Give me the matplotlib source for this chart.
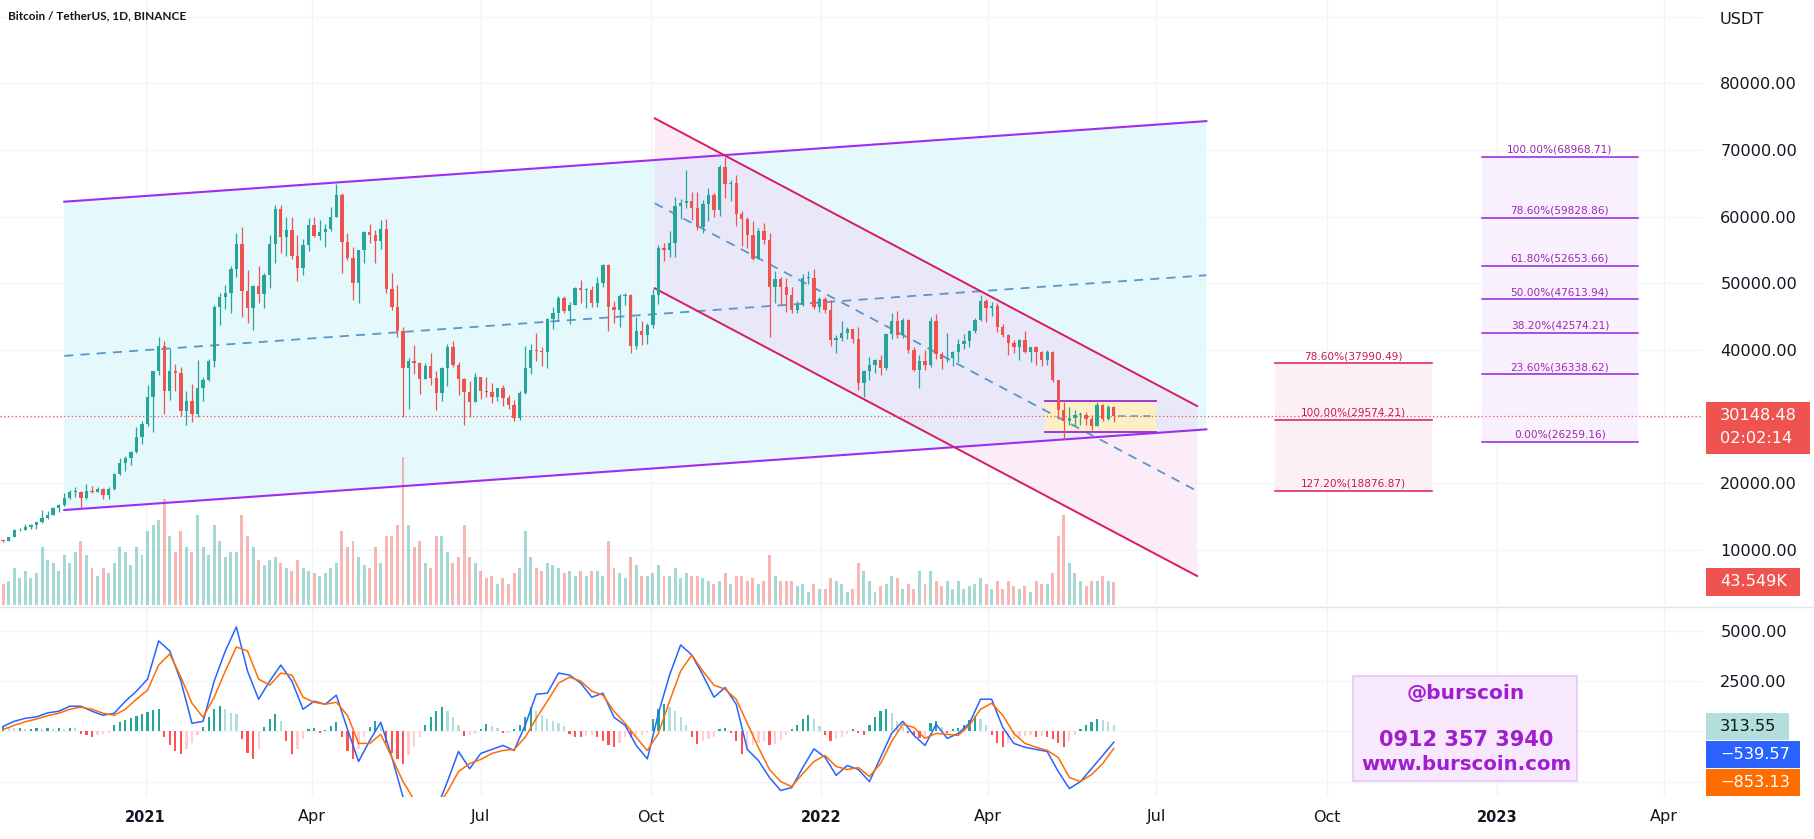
import numpy as np
import matplotlib
matplotlib.use("Agg")
import matplotlib.pyplot as plt
from matplotlib.patches import Rectangle, Polygon
from matplotlib.lines import Line2D

# ======================= DATA =======================
# 3-day candles (thousand USDT); first candle centred on 2020-10-16
candle_start = "2020-10-16"
candle_stop = "2022-06-10"
first_open = 11.45
high = [11.6, 11.95, 13.2, 13.35, 13.85, 13.9, 14.25, 15.95, 15.85, 16.5,
        16.9, 18.5, 18.95, 19.5, 18.9, 19.9, 19.6, 19.4, 19.3, 19.4,
        21.6, 23.8, 24.1, 24.8, 28.4, 29.3, 34.8, 36.9, 41.95, 41.35,
        40.1, 37.9, 37.4, 33.8, 34.9, 38.5, 35.9, 38.7, 46.8, 48.6,
        49.7, 52.6, 57.5, 58.4, 51.95, 49.8, 52.6, 51.5, 57.2, 61.8,
        61.7, 60.0, 59.9, 57.2, 56.6, 59.8, 60.0, 59.5, 58.9, 61.5,
        64.85, 63.5, 57.5, 55.5, 55.0, 57.9, 58.9, 58.0, 59.5, 59.6,
        51.5, 49.8, 43.5, 38.8, 40.8, 38.2, 38.0, 39.5, 36.8, 37.5,
        40.98, 41.3, 38.2, 35.75, 35.3, 36.6, 36.0, 35.9, 35.1, 34.3,
        34.7, 33.2, 32.5, 33.9, 40.55, 40.9, 42.6, 40.5, 44.8, 46.5,
        48.1, 48.1, 47.2, 49.4, 50.5, 49.3, 49.6, 51.0, 52.9, 52.9,
        47.3, 48.4, 48.5, 48.4, 45.0, 44.3, 44.1, 49.2, 55.7, 56.0,
        57.8, 62.9, 62.7, 67.0, 63.7, 63.7, 62.5, 64.3, 63.5, 67.8,
        69.0, 65.5, 66.3, 60.8, 60.0, 59.3, 58.3, 59.1, 57.6, 51.9,
        51.0, 50.8, 49.5, 47.4, 51.4, 51.8, 52.1, 48.0, 47.9, 47.5,
        42.3, 44.4, 43.4, 43.2, 43.5, 37.0, 38.9, 38.7, 39.3, 42.6,
        45.5, 45.8, 44.8, 44.6, 40.4, 39.3, 40.0, 45.0, 45.4, 39.7,
        42.6, 39.9, 41.7, 42.4, 43.0, 44.8, 48.2, 47.7, 47.2, 47.1,
        43.9, 42.4, 41.5, 41.6, 42.9, 40.5, 40.6, 39.9, 40.0, 39.8,
        35.5, 32.2, 31.4, 31.0, 30.7, 30.7, 30.2, 32.2, 31.9, 31.8,
        31.6]
low = [11.2, 11.3, 11.9, 12.85, 12.95, 13.1, 13.2, 14.1, 14.7, 15.2,
       15.75, 16.6, 17.6, 18.0, 16.3, 17.6, 18.5, 18.65, 17.6, 17.6,
       19.05, 21.3, 21.8, 22.7, 24.5, 25.9, 28.6, 27.7, 36.3, 30.4,
       32.5, 33.8, 30.1, 28.8, 29.2, 30.0, 32.3, 35.4, 37.4, 43.7,
       46.2, 45.6, 50.9, 45.0, 44.1, 43.0, 47.1, 46.3, 49.3, 53.0,
       54.6, 54.1, 53.7, 50.4, 51.3, 54.9, 57.0, 56.5, 55.5, 57.9,
       59.9, 51.5, 53.5, 47.5, 47.0, 53.0, 56.0, 53.0, 55.2, 48.6,
       46.0, 42.0, 30.0, 31.1, 36.4, 33.4, 35.6, 34.8, 31.0, 32.4,
       34.6, 37.4, 33.3, 28.8, 30.0, 32.2, 32.7, 33.0, 32.1, 32.3,
       31.6, 31.1, 29.3, 29.5, 33.4, 36.4, 38.3, 37.6, 37.3, 43.1,
       44.3, 45.5, 43.9, 46.7, 47.1, 46.3, 46.5, 46.5, 49.4, 42.8,
       44.1, 43.4, 46.7, 39.6, 40.2, 40.8, 40.9, 43.3, 46.9, 53.4,
       53.9, 54.0, 59.6, 61.3, 59.5, 58.0, 57.5, 59.4, 60.0, 60.1,
       62.8, 62.3, 58.6, 55.6, 55.3, 53.5, 53.6, 55.9, 42.0, 47.1,
       46.8, 45.7, 45.5, 45.5, 46.6, 49.9, 46.1, 45.7, 45.5, 40.6,
       39.6, 41.3, 41.7, 41.1, 34.0, 32.9, 35.5, 36.6, 36.2, 37.0,
       41.6, 41.8, 41.8, 39.5, 36.8, 34.3, 37.0, 37.5, 38.6, 37.2,
       38.2, 37.6, 38.2, 40.2, 40.5, 42.6, 44.4, 44.2, 45.1, 42.7,
       41.9, 39.2, 39.6, 38.5, 39.6, 38.2, 37.7, 37.6, 37.7, 35.2,
       29.7, 26.7, 28.7, 28.6, 28.7, 28.8, 28.0, 28.6, 29.3, 29.5,
       29.2]
close = [11.4, 11.9, 12.95, 13.05, 13.45, 13.75, 14.15, 14.8, 15.3, 16.3,
         16.7, 17.8, 18.7, 18.75, 17.75, 18.8, 18.65, 19.2, 18.3, 19.2,
         21.35, 23.1, 23.8, 24.7, 27.0, 28.9, 33.0, 36.8, 40.6, 33.9,
         36.8, 36.6, 30.8, 32.3, 30.4, 34.3, 35.5, 38.3, 46.4, 48.0,
         48.6, 52.1, 55.9, 48.9, 46.3, 49.6, 48.4, 51.2, 55.9, 61.2,
         56.9, 58.0, 54.1, 52.3, 55.8, 58.8, 57.1, 57.7, 58.1, 60.0,
         63.2, 56.2, 53.8, 50.0, 55.0, 57.7, 57.2, 56.4, 58.2, 49.2,
         46.4, 42.9, 37.3, 38.4, 38.0, 35.7, 37.6, 35.8, 33.6, 37.3,
         40.5, 37.7, 35.6, 33.7, 32.2, 36.0, 33.8, 33.7, 32.9, 34.3,
         32.8, 31.8, 29.8, 33.6, 37.3, 40.0, 39.9, 39.7, 44.6, 45.6,
         47.8, 45.9, 46.8, 49.3, 49.0, 49.0, 47.1, 50.0, 52.7, 46.4,
         46.0, 48.1, 48.3, 40.6, 42.8, 42.2, 43.8, 48.2, 55.3, 55.0,
         56.1, 61.6, 62.0, 62.4, 61.3, 58.4, 61.9, 63.2, 61.0, 67.5,
         64.9, 65.0, 60.4, 59.7, 57.3, 53.7, 57.8, 56.5, 49.4, 50.6,
         49.4, 48.3, 46.0, 46.7, 50.8, 50.8, 46.5, 47.7, 46.0, 41.5,
         41.8, 42.6, 43.1, 41.7, 35.1, 36.9, 37.7, 38.5, 37.3, 42.4,
         44.4, 42.2, 44.5, 40.0, 37.0, 38.3, 37.7, 44.4, 39.4, 38.7,
         38.8, 39.7, 40.9, 41.3, 42.9, 44.5, 47.4, 46.3, 46.6, 43.5,
         42.2, 41.1, 40.5, 41.5, 39.7, 40.4, 39.7, 38.5, 39.7, 35.5,
         31.0, 29.3, 29.8, 30.3, 30.3, 29.6, 28.6, 31.8, 29.7, 31.4,
         30.15]
volume_k = [40, 45, 70, 50, 65, 50,
            60, 110, 85, 80, 65, 95, 80, 100,
            120, 95, 70, 55, 70, 60,
            80, 110, 100, 75, 110, 95,
            140, 150, 160, 200,
            130, 100, 140, 110, 100, 170,
            110, 95, 150, 120, 90, 100,
            100, 170, 130, 110, 85,
            75, 85, 90, 80, 70,
            65, 85, 70, 65, 60,
            55, 60, 70, 80,
            140, 110, 120, 90, 75,
            70, 110, 80,
            130, 130, 150, 280, 150, 110, 120,
            80, 70, 130, 130,
            100, 80, 90, 150, 90, 80,
            65, 50, 55, 40, 50, 40,
            60, 70, 140, 90,
            70, 65, 80, 75, 70, 60,
            65, 55, 65, 55, 65,
            65, 55, 120, 70, 60, 50,
            90, 75, 55, 55,
            60, 75, 55, 55, 70, 50,
            60, 55, 55, 50, 45, 40,
            45, 60, 40,
            55, 55, 45, 50, 40, 45,
            95, 55, 45, 45,
            45, 35, 40, 25, 40, 30,
            30, 50, 45, 40, 25, 30,
            80, 65, 45, 25,
            35, 40, 55, 50, 30, 40,
            30, 65, 40, 65,
            45, 35, 45, 30, 45, 30,
            35, 40, 50, 40, 30, 45,
            30, 45, 35, 30, 35, 25,
            45, 40, 40, 60,
            130, 170, 80, 60,
            45, 35, 45, 45,
            55, 45, 43.549]
# MACD (12, 26, 9) read every 6 days, first point 2020-10-16
macd_start = "2020-10-16"
macd_line = [250, 500, 650, 720, 920, 1000, 1250, 1250, 1000, 800,
             900, 1500, 2000, 2600, 4500, 4000, 2500, 400, 500, 2500,
             4000, 5200, 3000, 1600, 2500, 3300, 2500, 1100, 1500, 1350,
             1800, 100, -1500, -460, 450, -1290, -3270, -3900, -4200, -3900,
             -2500, -1000, -1860, -1100, -900, -700, -950, 300, 1850, 1900,
             2900, 2800, 2400, 1700, 1900, 700, 300, -700, -1370, 900,
             2800, 4300, 3800, 2800, 1700, 2180, 1350, -900, -1450, -2300,
             -2940, -2800, -1800, -870, -1290, -2190, -1700, -1900, -2500, -1300,
             -100, 500, -200, -700, 350, -350, -100, 400, 1600, 1600,
             200, -600, -790, -900, -1000, -2000, -2850, -2500, -1850, -1200,
             -539.57]
signal_line = [90, 300, 480, 610, 780, 900, 1100, 1200, 1100, 900,
               800, 1100, 1600, 2050, 3300, 3850, 2700, 1400, 700, 1700,
               3000, 4200, 4000, 2600, 2300, 2900, 2800, 1700, 1450, 1350,
               1450, 800, -600, -600, -150, -1300, -2500, -3400, -3900, -3800,
               -3000, -2000, -1600, -1400, -1100, -950, -900, -300, 650, 1500,
               2400, 2700, 2500, 2000, 1800, 1000, 400, -300, -950, -100,
               1500, 3000, 3800, 3000, 2300, 2100, 1600, 400, -800, -1900,
               -2500, -2750, -2100, -1500, -1200, -1750, -1900, -1800, -2250, -1600,
               -500, 350, 200, -350, -100, -150, -200, 300, 1100, 1400,
               800, -100, -600, -790, -950, -1300, -2300, -2500, -2150, -1600,
               -853.13]
# MACD histogram, one bar per 3-day candle
macd_hist = [250, 200, 150, 150, 120, 130, 150, 120, 150, 120, 150, 130, 180, 150,
             -150, -200, -260, -200, -150, -80,
             300, 450, 550, 650, 750, 850, 950,
             1050, 1100,
             -300, -700, -1000, -1120, -900,
             -600, -200,
             200, 700, 1100, 1270, 1100, 900, 860,
             -400, -1100, -1370, -900,
             200, 600, 860, 500,
             -500, -1120, -900, -400,
             100, 150, -100, 80, 250, 450,
             -300, -1000, -1370, -900, -300,
             200, 530, 300,
             -600, -1100, -1400, -1620, -1200, -800, -300,
             300, 700, 1000, 1190, 1000, 700, 300,
             -210, -200, -150, 100,
             360, 250, 150,
             -100, -80, 100, 300, 700,
             1190, 1000, 800,
             600, 530, 400, 250,
             -150, -300, -300, -250, -200,
             -300, -500, -700, -790, -600,
             -300, -300, -250, -200, -100,
             600, 1100, 1350, 1200, 1000, 700, 300,
             -300, -630, -500, -400, -300,
             100, 150, -100,
             -500, -1120, -900, -700, -600,
             -500, -700, -650, -420,
             -200, 100, 300,
             600, 830, 600, 250,
             -200, -460, -400, -300, -150,
             100, -100, -200,
             300, 700, 1000, 1100, 900, 500,
             200, -100, -200,
             -350, -300, 400,
             500, 200, -100,
             100, 150, 300,
             550, 780, 600,
             300, -200, -600, -790, -600, -400,
             -300, -250, -200, -300, -250, -300, -400, -600,
             -800, -500, -200,
             100, 300, 450, 610, 550, 450, 313.55]
last_price = 30.14848
countdown = "02:02:14"

# Drawings (anchor dates / prices in thousand USDT)
asc_dates = ["2020-11-18", "2022-07-28"]
asc_upper = [62.25, 74.34]
asc_lower = [16.0, 28.1]
desc_dates = ["2021-10-03", "2022-07-23"]
desc_upper = [74.76, 31.6]
desc_lower = [49.26, 6.1]
range_dates = ["2022-05-02", "2022-07-01"]
range_prices = [27.75, 32.4]
range_mid_start = "2022-06-10"
fib_r_dates = ["2022-12-24", "2023-03-18"]
fib_r_levels = [1.0, 0.786, 0.618, 0.5, 0.382, 0.236, 0.0]
fib_r_prices = [68968.71, 59828.86, 52653.66, 47613.94, 42574.21, 36338.62, 26259.16]
fib_l_dates = ["2022-09-03", "2022-11-27"]
fib_l_levels = [0.786, 1.0, 1.272]
fib_l_prices = [37990.49, 29574.21, 18876.87]

price_ticks = [10, 20, 40, 50, 60, 70, 80]
price_grid = [10, 20, 30, 40, 50, 60, 70, 80, 90]
macd_ticks = [5000, 2500]
macd_grid = [5000, 2500, 0, -2500]
x_tick_dates = ["2021-01-01", "2021-04-01", "2021-07-01", "2021-10-01", "2022-01-01",
                "2022-04-01", "2022-07-01", "2022-10-01", "2023-01-01", "2023-04-01"]
x_tick_labels = ["2021", "Apr", "Jul", "Oct", "2022", "Apr", "Jul", "Oct", "2023", "Apr"]

# ======================= HELPERS =======================
DAY0 = np.datetime64("2021-01-01")


def dnum(s):
    return (np.array(s, dtype="datetime64[D]") - DAY0).astype(float)


FIG_W, FIG_H = 1814, 839
plt.rcParams["font.family"] = ["DejaVu Sans"]
fig = plt.figure(figsize=(FIG_W / 100, FIG_H / 100), dpi=100)
fig.patch.set_facecolor("white")


def rect(x0, y0, x1, y1):
    return [x0 / FIG_W, 1 - y1 / FIG_H, (x1 - x0) / FIG_W, (y1 - y0) / FIG_H]


PLOT_R = 1703
XLIM = (-78.71, 841.3)
PLIM = (1.755, 92.505)
VLIM = (0, 1141.5)
MLIM = (-3267, 6139)

ax_bg = fig.add_axes(rect(0, 0, PLOT_R, 605))
ax_vol = fig.add_axes(rect(0, 0, PLOT_R, 605))
ax = fig.add_axes(rect(0, 0, PLOT_R, 605))
axm = fig.add_axes(rect(0, 608, PLOT_R, 797))
for a in (ax_bg, ax_vol, ax, axm):
    a.set_xlim(*XLIM)
    for sp in a.spines.values():
        sp.set_visible(False)
    a.tick_params(length=0)
ax_vol.patch.set_visible(False)
ax.patch.set_visible(False)
ax_bg.set_ylim(*PLIM)
ax.set_ylim(*PLIM)
ax_vol.set_ylim(*VLIM)
axm.set_ylim(*MLIM)
for a in (ax_bg, ax_vol):
    a.set_xticks([])
    a.set_yticks([])
ax.set_xticks([])

GRID = "#f0f3fa"
xt = dnum(x_tick_dates)
for v in price_grid:
    ax_bg.axhline(v, color=GRID, lw=1.0, zorder=0)
for v in macd_grid:
    axm.axhline(v, color=GRID, lw=1.0, zorder=0)
for xv in xt:
    ax_bg.axvline(xv, color=GRID, lw=1.0, zorder=0)
    axm.axvline(xv, color=GRID, lw=1.0, zorder=0)

# ---- background drawings (fills) ----
ad = dnum(asc_dates)
asc_pts = [(ad[0], asc_upper[0]), (ad[1], asc_upper[1]), (ad[1], asc_lower[1]), (ad[0], asc_lower[0])]
cyan = Polygon(asc_pts, closed=True, facecolor="#e5f8fc", edgecolor="none", zorder=1)
ax_bg.add_patch(cyan)
dd = dnum(desc_dates)
desc_pts = [(dd[0], desc_upper[0]), (dd[1], desc_upper[1]), (dd[1], desc_lower[1]), (dd[0], desc_lower[0])]
ax_bg.add_patch(Polygon(desc_pts, closed=True, facecolor="#fcecf7", edgecolor="none", zorder=1.1))
lav = Polygon(desc_pts, closed=True, facecolor="#e9e8f9", edgecolor="none", zorder=1.2)
ax_bg.add_patch(lav)
lav.set_clip_path(cyan)

fr = dnum(fib_r_dates)
ax_bg.fill_between(fr, min(fib_r_prices) / 1000, max(fib_r_prices) / 1000, color="#f9f1fd", lw=0, zorder=1)
fl = dnum(fib_l_dates)
ax_bg.fill_between(fl, min(fib_l_prices) / 1000, max(fib_l_prices) / 1000, color="#fdf0f4", lw=0, zorder=1)
rd = dnum(range_dates)
ax_bg.fill_between(rd, range_prices[0], range_prices[1], color="#fbefc6", lw=0, zorder=1.3)

# ---- volume ----
xc = dnum(np.arange(np.datetime64(candle_start), np.datetime64(candle_stop), np.timedelta64(3, "D")))
o = np.concatenate([[first_open], np.array(close[:-1])])
c = np.array(close)
h = np.array(high)
l = np.array(low)
up = c >= o
UP, DN = "#26a69a", "#ef5350"
vcols = [(0.149, 0.651, 0.604, 0.42) if u else (0.937, 0.325, 0.314, 0.42) for u in up]
ax_vol.bar(xc, volume_k, width=1.6, color=vcols, lw=0)

# ---- candles ----
ccols = [UP if u else DN for u in up]
ax.vlines(xc, l, h, colors=ccols, lw=0.9, zorder=4)
body_lo = np.minimum(o, c)
body_h = np.maximum(np.abs(c - o), 0.12)
ax.bar(xc, body_h, bottom=body_lo, width=1.8, color=ccols, lw=0, zorder=4)

# ---- drawing lines ----
CRIMSON = "#d81b60"
DASH = "#5b96c8"
ax.plot(ad, asc_upper, color="#a12cf0", lw=1.5, zorder=3)
ax.plot(ad, asc_lower, color="#a12cf0", lw=1.5, zorder=3)
ax.plot(ad, [(asc_upper[0] + asc_lower[0]) / 2, (asc_upper[1] + asc_lower[1]) / 2],
        color=DASH, lw=1.3, ls=(0, (5, 4)), zorder=3)
ax.plot(dd, desc_upper, color=CRIMSON, lw=1.4, zorder=3)
ax.plot(dd, desc_lower, color=CRIMSON, lw=1.4, zorder=3)
ax.plot(dd, [(desc_upper[0] + desc_lower[0]) / 2, (desc_upper[1] + desc_lower[1]) / 2],
        color=DASH, lw=1.3, ls=(0, (5, 4)), zorder=3)
for p in range_prices:
    ax.plot(rd, [p, p], color="#9c27d0", lw=1.3, zorder=3)
ax.plot([dnum(range_mid_start), rd[1]], [last_price, last_price], color="#7fa6c6", lw=1.3,
        ls=(0, (4, 3)), zorder=3)

for lvl, p in zip(fib_r_levels, fib_r_prices):
    ax.plot(fr, [p / 1000, p / 1000], color="#8e24e0", lw=1.1, zorder=3)
    ax.text(fr.mean(), p / 1000 + 0.3, f"{lvl * 100:.2f}%({p:.2f})", color="#9c27b0",
            fontsize=7.6, ha="center", va="bottom", zorder=5)
for lvl, p in zip(fib_l_levels, fib_l_prices):
    ax.plot(fl, [p / 1000, p / 1000], color=CRIMSON, lw=1.1, zorder=3)
    ax.text(fl.mean(), p / 1000 + 0.3, f"{lvl * 100:.2f}%({p:.2f})", color="#c2185b",
            fontsize=7.6, ha="center", va="bottom", zorder=5)

ax.axhline(last_price, color="#ef5350", lw=0.9, ls=(0, (1, 2)), zorder=3.5)

# ---- price axis ----
ax.yaxis.tick_right()
ax.set_yticks(price_ticks)
ax.set_yticklabels([f"{v * 1000:.2f}" for v in price_ticks])
ax.tick_params(axis="y", pad=12.5, labelsize=11.6, labelcolor="#131722")

# ---- MACD ----
xm = dnum(np.arange(np.datetime64(macd_start), np.datetime64(candle_stop), np.timedelta64(6, "D")))
hv = np.array(macd_hist, dtype=float)
hcols = []
for i, v in enumerate(hv):
    prev = hv[i - 1] if i > 0 else 0
    if v >= 0:
        hcols.append("#26a69a" if v >= prev else "#b2dfdb")
    else:
        hcols.append("#ff5252" if v <= prev else "#ffcdd2")
axm.bar(xc, hv, width=1.2, color=hcols, lw=0, zorder=2)
axm.plot(xm, macd_line, color="#2962ff", lw=1.1, zorder=3, solid_joinstyle="round")
axm.plot(xm, signal_line, color="#ff6d00", lw=1.1, zorder=3, solid_joinstyle="round")
axm.yaxis.tick_right()
axm.set_yticks(macd_ticks)
axm.set_yticklabels([f"{v:.2f}" for v in macd_ticks])
axm.tick_params(axis="y", pad=12.5, labelsize=11.6, labelcolor="#131722")
axm.set_xticks(xt)
axm.set_xticklabels(x_tick_labels)
axm.tick_params(axis="x", pad=9, labelsize=11.5, labelcolor="#131722")
for t in axm.get_xticklabels():
    if t.get_text().isdigit():
        t.set_fontweight("bold")
        t.set_fontsize(10.5)

# ---- separators & labels ----
fig.add_artist(Line2D([0, 1], [1 - 607 / FIG_H, 1 - 607 / FIG_H], transform=fig.transFigure,
                      color="#e0e3eb", lw=1.0))


def box(x0, y0, x1, y1, fc, ec=None, lw=0.0, z=20):
    fig.add_artist(Rectangle((x0 / FIG_W, 1 - y1 / FIG_H), (x1 - x0) / FIG_W, (y1 - y0) / FIG_H,
                             transform=fig.transFigure, facecolor=fc,
                             edgecolor=ec if ec else fc, lw=lw, zorder=z))


def ftext(x, y, s, **kw):
    kw.setdefault("fontsize", 11.6)
    kw.setdefault("va", "center")
    fig.text(x / FIG_W, 1 - y / FIG_H, s, zorder=25, **kw)


fig.canvas.draw()
yp = FIG_H - ax.transData.transform((0, last_price))[1]
box(1706, yp - 14, 1810, yp + 38, "#ef5350")
ftext(1720, yp, f"{last_price * 1000:.2f}", color="white")
ftext(1720, yp + 23, countdown, color="white")
yv = FIG_H - ax_vol.transData.transform((0, volume_k[-1]))[1]
box(1706, yv - 14, 1800, yv + 14, "#ef5350")
ftext(1720, yv, f"{volume_k[-1]:.3f}K", color="white")

lab_vals = [macd_hist[-1], macd_line[-1], signal_line[-1]]
lab_cols = ["#b2dfdb", "#2962ff", "#ff6d00"]
lab_txt = ["#131722", "white", "white"]
lab_x1 = [1789, 1800, 1800]
for i, (v, fc, tc, x1) in enumerate(zip(lab_vals, lab_cols, lab_txt, lab_x1)):
    y0 = 713 + 28 * i
    box(1706, y0, x1, y0 + 27, fc)
    ftext(1720, y0 + 13.5, f"{v:.2f}".replace("-", "\u2212"), color=tc)

ftext(1720, 19, "USDT", color="#131722")
ftext(8, 16, "Bitcoin / TetherUS, 1D, BINANCE", fontsize=8.5, fontweight="bold",
      family="Lato", color="#131722")

# watermark box
box(1353, 676, 1577, 781, "#f7e8fd", ec="#e6c6f5", lw=1.2, z=22)
WM = "#a01ed0"
ftext(1466, 694, "@burscoin", color=WM, fontsize=14.5, fontweight="bold", ha="center")
ftext(1466, 740, "0912 357 3940", color=WM, fontsize=15, fontweight="bold", ha="center")
ftext(1466, 765, "www.burscoin.com", color=WM, fontsize=14.2, fontweight="bold", ha="center")

fig.savefig("out.png", dpi=100, facecolor="white")
